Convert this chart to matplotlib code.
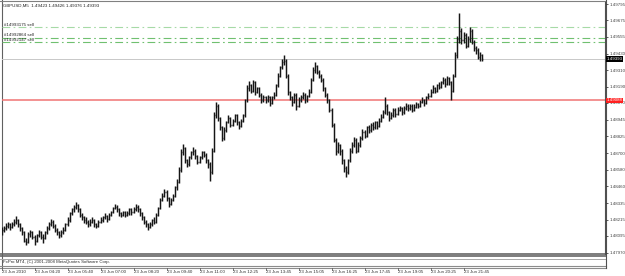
import matplotlib
matplotlib.use("Agg")
import matplotlib.pyplot as plt
import matplotlib.transforms as mtransforms

plt.rcParams['font.family'] = ['Liberation Sans', 'DejaVu Sans']

# GBPUSD M5 bars, 23 Jun 2010
opens = [
    1.4812, 1.4814, 1.4815, 1.4817, 1.4818, 1.4816, 1.4818, 1.4820, 1.4821, 1.4818,
    1.4815, 1.4812, 1.4806, 1.4805, 1.4811, 1.4812, 1.4809, 1.4806, 1.4810, 1.4812,
    1.4809, 1.4808, 1.4812, 1.4815, 1.4818, 1.4820, 1.4817, 1.4814, 1.4812, 1.4810,
    1.4812, 1.4814, 1.4818, 1.4821, 1.4826, 1.4829, 1.4831, 1.4832, 1.4829, 1.4825,
    1.4823, 1.4821, 1.4820, 1.4818, 1.4820, 1.4821, 1.4818, 1.4817, 1.4820, 1.4821,
    1.4823, 1.4824, 1.4822, 1.4825, 1.4827, 1.4830, 1.4831, 1.4829, 1.4826, 1.4825,
    1.4827, 1.4825, 1.4826, 1.4829, 1.4827, 1.4829, 1.4831, 1.4829, 1.4826, 1.4823,
    1.4820, 1.4818, 1.4816, 1.4818, 1.4821, 1.4820, 1.4825, 1.4830, 1.4836, 1.4839,
    1.4842, 1.4837, 1.4833, 1.4836, 1.4839, 1.4845, 1.4849, 1.4858, 1.4871, 1.4874,
    1.4865, 1.4862, 1.4867, 1.4871, 1.4872, 1.4868, 1.4864, 1.4867, 1.4871, 1.4869,
    1.4865, 1.4862, 1.4856, 1.4872, 1.4898, 1.4905, 1.4896, 1.4889, 1.4881, 1.4887,
    1.4893, 1.4896, 1.4891, 1.4894, 1.4898, 1.4893, 1.4890, 1.4894, 1.4898, 1.4909,
    1.4918, 1.4920, 1.4916, 1.4922, 1.4915, 1.4918, 1.4913, 1.4909, 1.4911, 1.4909,
    1.4911, 1.4907, 1.4911, 1.4913, 1.4920, 1.4927, 1.4933, 1.4937, 1.4938, 1.4927,
    1.4915, 1.4911, 1.4908, 1.4913, 1.4905, 1.4909, 1.4911, 1.4913, 1.4909, 1.4912,
    1.4915, 1.4924, 1.4931, 1.4934, 1.4930, 1.4927, 1.4924, 1.4918, 1.4913, 1.4909,
    1.4902, 1.4891, 1.4880, 1.4872, 1.4876, 1.4872, 1.4865, 1.4859, 1.4856, 1.4865,
    1.4872, 1.4876, 1.4880, 1.4872, 1.4876, 1.4881, 1.4886, 1.4883, 1.4889, 1.4887,
    1.4891, 1.4889, 1.4893, 1.4890, 1.4894, 1.4897, 1.4900, 1.4905, 1.4900, 1.4896,
    1.4898, 1.4902, 1.4899, 1.4902, 1.4903, 1.4900, 1.4903, 1.4905, 1.4903, 1.4905,
    1.4902, 1.4904, 1.4906, 1.4905, 1.4908, 1.4909, 1.4907, 1.4911, 1.4912, 1.4915,
    1.4918, 1.4916, 1.4920, 1.4919, 1.4922, 1.4924, 1.4921, 1.4925, 1.4922, 1.4916,
    1.4927, 1.4942, 1.4954, 1.4960, 1.4953, 1.4957, 1.4949, 1.4954, 1.4960, 1.4952,
    1.4947, 1.4946, 1.4941, 1.49423,
]
highs = [
    1.4816, 1.4817, 1.4819, 1.4820, 1.4819, 1.4820, 1.4822, 1.4824, 1.4822, 1.4819,
    1.4816, 1.4813, 1.4808, 1.4812, 1.4814, 1.4813, 1.4810, 1.4811, 1.4814, 1.4813,
    1.4811, 1.4813, 1.4817, 1.4820, 1.4822, 1.4821, 1.4818, 1.4815, 1.4813, 1.4814,
    1.4816, 1.4819, 1.4823, 1.4827, 1.4830, 1.4832, 1.4834, 1.4833, 1.4830, 1.4826,
    1.4824, 1.4823, 1.4821, 1.4822, 1.4823, 1.4822, 1.4819, 1.4821, 1.4823, 1.4824,
    1.4826, 1.4825, 1.4826, 1.4828, 1.4831, 1.4833, 1.4832, 1.4830, 1.4827, 1.4828,
    1.4828, 1.4828, 1.4830, 1.4830, 1.4831, 1.4833, 1.4832, 1.4830, 1.4827, 1.4824,
    1.4821, 1.4819, 1.4820, 1.4822, 1.4823, 1.4826, 1.4831, 1.4837, 1.4841, 1.4844,
    1.4843, 1.4838, 1.4837, 1.4840, 1.4846, 1.4851, 1.4860, 1.4873, 1.4877, 1.4875,
    1.4866, 1.4868, 1.4872, 1.4875, 1.4873, 1.4869, 1.4868, 1.4872, 1.4872, 1.4870,
    1.4866, 1.4864, 1.4874, 1.4900, 1.4908, 1.4906, 1.4897, 1.4890, 1.4889, 1.4894,
    1.4898, 1.4897, 1.4895, 1.4899, 1.4899, 1.4894, 1.4895, 1.4899, 1.4910, 1.4920,
    1.4923, 1.4921, 1.4924, 1.4923, 1.4919, 1.4919, 1.4914, 1.4913, 1.4912, 1.4913,
    1.4912, 1.4912, 1.4915, 1.4921, 1.4929, 1.4934, 1.4939, 1.4942, 1.4939, 1.4928,
    1.4916, 1.4912, 1.4914, 1.4914, 1.4911, 1.4913, 1.4915, 1.4914, 1.4913, 1.4917,
    1.4925, 1.4933, 1.4937, 1.4935, 1.4931, 1.4928, 1.4925, 1.4919, 1.4914, 1.4910,
    1.4903, 1.4892, 1.4881, 1.4878, 1.4877, 1.4873, 1.4866, 1.4861, 1.4866, 1.4874,
    1.4878, 1.4882, 1.4881, 1.4878, 1.4883, 1.4888, 1.4887, 1.4890, 1.4891, 1.4892,
    1.4893, 1.4894, 1.4894, 1.4896, 1.4899, 1.4902, 1.4911, 1.4906, 1.4901, 1.4900,
    1.4903, 1.4903, 1.4904, 1.4905, 1.4904, 1.4905, 1.4907, 1.4906, 1.4906, 1.4906,
    1.4906, 1.4908, 1.4907, 1.4909, 1.4911, 1.4910, 1.4912, 1.4914, 1.4917, 1.4920,
    1.4919, 1.4921, 1.4922, 1.4923, 1.4926, 1.4925, 1.4927, 1.4926, 1.4923, 1.4928,
    1.4944, 1.4956, 1.4973, 1.4962, 1.4959, 1.4958, 1.4956, 1.4963, 1.4961, 1.4953,
    1.4949, 1.4947, 1.4944, 1.49426,
]
lows = [
    1.4810, 1.4812, 1.4814, 1.4815, 1.4814, 1.4815, 1.4817, 1.4818, 1.4816, 1.4813,
    1.4810, 1.4805, 1.4803, 1.4804, 1.4809, 1.4807, 1.4803, 1.4805, 1.4809, 1.4807,
    1.4804, 1.4807, 1.4811, 1.4814, 1.4817, 1.4815, 1.4812, 1.4810, 1.4808, 1.4809,
    1.4811, 1.4813, 1.4817, 1.4820, 1.4825, 1.4827, 1.4829, 1.4827, 1.4823, 1.4821,
    1.4819, 1.4818, 1.4816, 1.4817, 1.4819, 1.4816, 1.4815, 1.4816, 1.4819, 1.4820,
    1.4822, 1.4820, 1.4821, 1.4824, 1.4826, 1.4829, 1.4827, 1.4824, 1.4823, 1.4824,
    1.4823, 1.4824, 1.4825, 1.4825, 1.4826, 1.4828, 1.4827, 1.4824, 1.4821, 1.4818,
    1.4816, 1.4814, 1.4815, 1.4817, 1.4818, 1.4819, 1.4824, 1.4829, 1.4835, 1.4838,
    1.4835, 1.4831, 1.4832, 1.4835, 1.4838, 1.4843, 1.4848, 1.4856, 1.4869, 1.4863,
    1.4860, 1.4861, 1.4866, 1.4869, 1.4866, 1.4862, 1.4863, 1.4866, 1.4867, 1.4863,
    1.4859, 1.4850, 1.4855, 1.4871, 1.4896, 1.4894, 1.4887, 1.4879, 1.4880, 1.4886,
    1.4892, 1.4889, 1.4890, 1.4893, 1.4891, 1.4888, 1.4889, 1.4893, 1.4897, 1.4908,
    1.4916, 1.4914, 1.4915, 1.4913, 1.4914, 1.4911, 1.4907, 1.4908, 1.4907, 1.4908,
    1.4905, 1.4906, 1.4910, 1.4912, 1.4919, 1.4926, 1.4932, 1.4935, 1.4925, 1.4913,
    1.4909, 1.4905, 1.4907, 1.4902, 1.4904, 1.4908, 1.4910, 1.4907, 1.4908, 1.4911,
    1.4914, 1.4923, 1.4929, 1.4928, 1.4925, 1.4922, 1.4916, 1.4911, 1.4907, 1.4900,
    1.4889, 1.4878, 1.4869, 1.4870, 1.4869, 1.4862, 1.4856, 1.4853, 1.4855, 1.4864,
    1.4870, 1.4875, 1.4870, 1.4871, 1.4875, 1.4880, 1.4881, 1.4882, 1.4885, 1.4886,
    1.4887, 1.4888, 1.4888, 1.4889, 1.4893, 1.4896, 1.4899, 1.4898, 1.4894, 1.4895,
    1.4897, 1.4897, 1.4898, 1.4901, 1.4898, 1.4899, 1.4902, 1.4901, 1.4902, 1.4900,
    1.4901, 1.4903, 1.4903, 1.4904, 1.4907, 1.4905, 1.4906, 1.4910, 1.4911, 1.4914,
    1.4914, 1.4915, 1.4917, 1.4918, 1.4921, 1.4919, 1.4920, 1.4920, 1.4909, 1.4915,
    1.4926, 1.4940, 1.4951, 1.4950, 1.4951, 1.4947, 1.4948, 1.4952, 1.4950, 1.4945,
    1.4943, 1.4939, 1.4938, 1.49376,
]
closes = [
    1.4814, 1.4815, 1.4817, 1.4818, 1.4816, 1.4818, 1.4820, 1.4821, 1.4818, 1.4815,
    1.4812, 1.4806, 1.4805, 1.4811, 1.4812, 1.4809, 1.4806, 1.4810, 1.4812, 1.4809,
    1.4808, 1.4812, 1.4815, 1.4818, 1.4820, 1.4817, 1.4814, 1.4812, 1.4810, 1.4812,
    1.4814, 1.4818, 1.4821, 1.4826, 1.4829, 1.4831, 1.4832, 1.4829, 1.4825, 1.4823,
    1.4821, 1.4820, 1.4818, 1.4820, 1.4821, 1.4818, 1.4817, 1.4820, 1.4821, 1.4823,
    1.4824, 1.4822, 1.4825, 1.4827, 1.4830, 1.4831, 1.4829, 1.4826, 1.4825, 1.4827,
    1.4825, 1.4826, 1.4829, 1.4827, 1.4829, 1.4831, 1.4829, 1.4826, 1.4823, 1.4820,
    1.4818, 1.4816, 1.4818, 1.4821, 1.4820, 1.4825, 1.4830, 1.4836, 1.4839, 1.4842,
    1.4837, 1.4833, 1.4836, 1.4839, 1.4845, 1.4849, 1.4858, 1.4871, 1.4874, 1.4865,
    1.4862, 1.4867, 1.4871, 1.4872, 1.4868, 1.4864, 1.4867, 1.4871, 1.4869, 1.4865,
    1.4862, 1.4856, 1.4872, 1.4898, 1.4905, 1.4896, 1.4889, 1.4881, 1.4887, 1.4893,
    1.4896, 1.4891, 1.4894, 1.4898, 1.4893, 1.4890, 1.4894, 1.4898, 1.4909, 1.4918,
    1.4920, 1.4916, 1.4922, 1.4915, 1.4918, 1.4913, 1.4909, 1.4911, 1.4909, 1.4911,
    1.4907, 1.4911, 1.4913, 1.4920, 1.4927, 1.4933, 1.4937, 1.4938, 1.4927, 1.4915,
    1.4911, 1.4908, 1.4913, 1.4905, 1.4909, 1.4911, 1.4913, 1.4909, 1.4912, 1.4915,
    1.4924, 1.4931, 1.4934, 1.4930, 1.4927, 1.4924, 1.4918, 1.4913, 1.4909, 1.4902,
    1.4891, 1.4880, 1.4872, 1.4876, 1.4872, 1.4865, 1.4859, 1.4856, 1.4865, 1.4872,
    1.4876, 1.4880, 1.4872, 1.4876, 1.4881, 1.4886, 1.4883, 1.4889, 1.4887, 1.4891,
    1.4889, 1.4893, 1.4890, 1.4894, 1.4897, 1.4900, 1.4905, 1.4900, 1.4896, 1.4898,
    1.4902, 1.4899, 1.4902, 1.4903, 1.4900, 1.4903, 1.4905, 1.4903, 1.4905, 1.4902,
    1.4904, 1.4906, 1.4905, 1.4908, 1.4909, 1.4907, 1.4911, 1.4912, 1.4915, 1.4918,
    1.4916, 1.4920, 1.4919, 1.4922, 1.4924, 1.4921, 1.4925, 1.4922, 1.4916, 1.4927,
    1.4942, 1.4954, 1.4960, 1.4953, 1.4957, 1.4949, 1.4954, 1.4960, 1.4952, 1.4947,
    1.4946, 1.4941, 1.4942, 1.49393,
]

# price scale labels on the right
price_ticks = [1.49795, 1.49675, 1.49555, 1.49430, 1.49310, 1.49190, 1.49070, 1.48945,
               1.48825, 1.48700, 1.48580, 1.48460, 1.48335, 1.48215, 1.48095, 1.47970]
# time labels, every 16 bars
date_labels = ["23 Jun 2010", "23 Jun 04:20", "23 Jun 05:40", "23 Jun 07:00", "23 Jun 08:20",
               "23 Jun 09:40", "23 Jun 11:00", "23 Jun 12:25", "23 Jun 13:45", "23 Jun 15:05",
               "23 Jun 16:25", "23 Jun 17:45", "23 Jun 19:05", "23 Jun 20:25", "23 Jun 21:45"]
date_bars = [0, 16, 32, 48, 64, 80, 96, 112, 128, 144, 160, 176, 192, 208, 224]

# pending sell orders
order_names = ["#14993175 sell", "#14992864 sell", "#14992147 sell"]
order_prices = [1.49626, 1.49549, 1.49514]
order_colors = ["#a6daa6", "#70c070", "#70c070"]

bid = 1.49393
red_level = 1.49088
header = "GBPUSD,M5  1.49423 1.49426 1.49376 1.49393"
copyright_txt = "FxPro MT4, (C) 2001-2008 MetaQuotes Software Corp."

W, H = 625, 276
fig = plt.figure(figsize=(W / 100, H / 100), dpi=100)
fig.patch.set_facecolor("white")

# overlay in pixel units for the window frame
ov = fig.add_axes([0, 0, 1, 1])
ov.set_xlim(0, W)
ov.set_ylim(H, 0)
ov.axis("off")

ax = fig.add_axes([2 / W, 1 - 253.5 / H, 603 / W, 251.5 / H])
ax.set_facecolor("none")
ax.set_xlim(0.24, 0.24 + 603 / 2.0625)
ax.set_ylim(1.47966, 1.49810)

x = list(range(len(closes)))
ax.hlines(opens, [i - 0.55 for i in x], x, color="#8a8a8a", lw=1.0, zorder=2)
ax.hlines(closes, x, [i + 0.55 for i in x], color="#8a8a8a", lw=1.0, zorder=2)
ax.vlines(x, lows, highs, color="#151515", lw=1.05, zorder=3)

# horizontal levels
ax.axhline(bid, color="#c8c8c8", lw=0.7, zorder=1)
ax.axhline(red_level, color="#f07474", lw=1.1, zorder=1)
for name, p, c in zip(order_names, order_prices, order_colors):
    ax.axhline(p, color=c, lw=0.8, linestyle=(0, (7, 3, 1.5, 3)), zorder=1)
    ax.text(0.004, p + 0.00004, name, transform=mtransforms.blended_transform_factory(ax.transAxes, ax.transData),
            fontsize=3.2, color="#202020", va="bottom", ha="left")

ax.text(0.002, 1 - 4 / 251.5, header, transform=ax.transAxes, fontsize=3.2,
        color="#202020", va="center", ha="left")

# right price scale
for s in ["top", "left", "bottom"]:
    ax.spines[s].set_visible(False)
ax.spines["right"].set_color("#505050")
ax.spines["right"].set_linewidth(0.8)
ax.yaxis.tick_right()
ax.set_yticks(price_ticks)
ax.set_yticklabels(["%.5f" % v for v in price_ticks])
ax.tick_params(axis="y", length=2, width=0.6, pad=1, labelsize=3.2, colors="#404040")
ax.set_xticks([])

ytr = mtransforms.blended_transform_factory(ax.transAxes, ax.transData)
ax.text(1.003, bid, "%.5f" % bid, transform=ytr, fontsize=3.2, color="white", va="center", ha="left",
        bbox=dict(boxstyle="square,pad=0.15", fc="black", ec="none"), zorder=5)
ax.text(1.003, red_level, "%.5f" % red_level, transform=ytr, fontsize=3.2, color="white", va="center",
        ha="left", bbox=dict(boxstyle="square,pad=0.15", fc="#ff2020", ec="none"), zorder=5)

# frame and the empty sub-window below the price window
ov.plot([1.5, 1.5], [0, 268], color="#606060", lw=0.8)
ov.plot([0, 605], [1.2, 1.2], color="#808080", lw=0.8)
ov.add_patch(plt.Rectangle((0, 252.8), 605.5, 4, color="#7f7f7f", lw=0))
ov.plot([0, 605.5], [258.8, 258.8], color="#a8a8a8", lw=0.7)
ov.text(3, 262.3, copyright_txt, fontsize=3.2, color="#303030", va="center", ha="left")
ov.plot([0, 605.5], [265.8, 265.8], color="#8c8c8c", lw=0.8)
ov.plot([0, 605.5], [267.8, 267.8], color="#8c8c8c", lw=0.8)
ov.plot([605.5, 605.5], [0, 268], color="#505050", lw=0.8)

xtr = mtransforms.blended_transform_factory(ax.transData, ov.transData)
for b, lab in zip(date_bars, date_labels):
    ov.plot([b, b], [268, 270], color="#606060", lw=0.6, transform=xtr)
    ov.text(b, 272.3, lab, fontsize=3.2, color="#303030", va="center", ha="left", transform=xtr)

fig.savefig("out.png", dpi=100)
